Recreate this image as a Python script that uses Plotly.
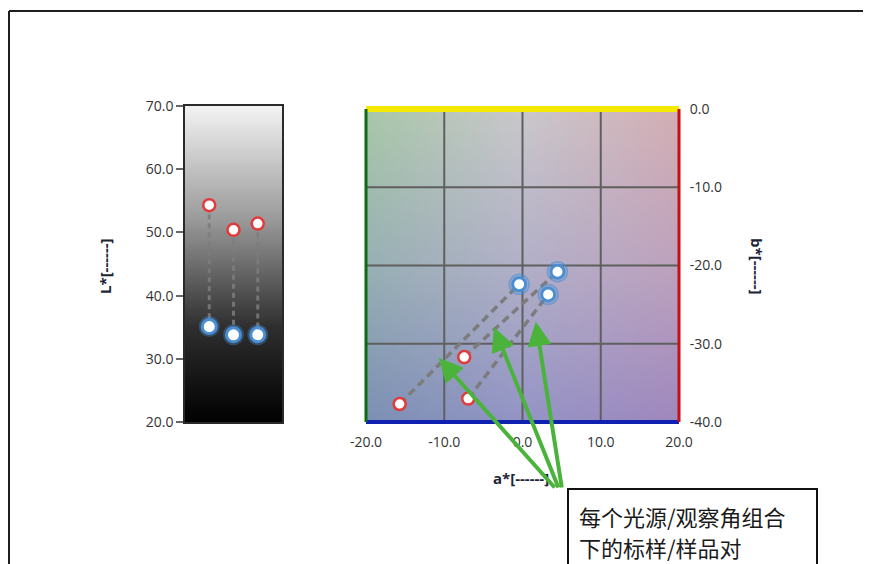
import numpy as np
import plotly.graph_objects as go

# ---------------- data ----------------
L_positions = [1, 2, 3]
L_sample = [54.3, 50.4, 51.4]
L_standard = [35.1, 33.8, 33.8]
L_ticks = [20, 30, 40, 50, 60, 70]

a_sample = [-15.7, -7.45, -6.94]
b_sample = [-37.7, -31.7, -37.0]
a_standard = [-0.43, 4.47, 3.28]
b_standard = [-22.4, -20.8, -23.7]
a_ticks = [-20, -10, 0, 10, 20]
b_ticks = [0, -10, -20, -30, -40]

arrow_targets_a = [-10.7, -3.65, 1.7]
arrow_targets_b = [-31.8, -27.9, -27.2]

note_lines = ["每个光源/观察角组合", "下的标样/样品对"]
L_title = "L*[------]"
a_title = "a*[------]"
b_title = "b*[------]"

# ---------------- figure setup ----------------
# page body has an 8px margin; figure coordinates are page pixels minus 8
OFF = 8
W, H = 863, 556


def px(x):
    return (x - OFF) / W


def py(y):
    return 1 - (y - OFF) / H


TICKFONT = dict(family="Open Sans, DejaVu Sans, sans-serif", size=14, color="#333333")
SAMPLE_COLOR = "#e23a3a"
STD_COLOR = "#4a8fd4"

fig = go.Figure()

# L* background gradient (heatmap)
Ly = np.linspace(18, 72, 55)
fig.add_trace(go.Heatmap(
    x=[-0.5, 4.5], y=Ly, z=[[v, v] for v in Ly],
    colorscale=[[0, "#000000"], [0.3, "#2e2e2e"], [0.65, "#9c9c9c"], [1, "#f2f2f2"]],
    zmin=20, zmax=70, zsmooth="best", showscale=False, hoverinfo="skip",
    xaxis="x", yaxis="y",
))

# L* dashed pair lines
for xp, s, t in zip(L_positions, L_sample, L_standard):
    fig.add_trace(go.Scatter(
        x=[xp, xp], y=[s, t], mode="lines",
        line=dict(color="rgba(125,125,125,0.85)", width=3, dash="5px,4px"),
        hoverinfo="skip", showlegend=False, xaxis="x", yaxis="y",
    ))
fig.add_trace(go.Scatter(
    x=L_positions, y=L_standard, mode="markers",
    marker=dict(size=21, color="rgba(74,143,212,0.35)", line=dict(width=0)),
    hoverinfo="skip", showlegend=False, xaxis="x", yaxis="y",
))
fig.add_trace(go.Scatter(
    x=L_positions, y=L_standard, mode="markers", name="标样",
    marker=dict(size=14, color="white", line=dict(color=STD_COLOR, width=3)),
    showlegend=False, xaxis="x", yaxis="y",
))
fig.add_trace(go.Scatter(
    x=L_positions, y=L_sample, mode="markers", name="样品",
    marker=dict(size=12, color="white", line=dict(color=SAMPLE_COLOR, width=2.5)),
    showlegend=False, xaxis="x", yaxis="y",
))

# a*b* background image (smooth colour field)
ctrl = np.array([
    [[124, 144, 180], [148, 148, 198], [160, 136, 190]],   # bottom row (b=-40)
    [[152, 176, 180], [178, 176, 200], [190, 162, 190]],   # middle
    [[168, 200, 168], [202, 200, 204], [212, 174, 180]],   # top row (b=0)
], dtype=float)
n = 120
u = np.linspace(0, 2, n)
i0 = np.clip(np.floor(u).astype(int), 0, 1)
fr = u - i0
img = np.zeros((n, n, 3))
for r in range(n):
    for c in range(n):
        a0, af = i0[r], fr[r]
        b0, bf = i0[c], fr[c]
        top = ctrl[a0 + 1, b0] * (1 - bf) + ctrl[a0 + 1, b0 + 1] * bf
        bot = ctrl[a0, b0] * (1 - bf) + ctrl[a0, b0 + 1] * bf
        img[r, c] = bot * (1 - af) + top * af
img = img.astype(np.uint8)
step = 40 / n
fig.add_trace(go.Image(
    z=img, x0=-20 + step / 2, dx=step, y0=-40 + step / 2, dy=step,
    hoverinfo="skip", xaxis="x2", yaxis="y2",
))

# grid lines as traces (so they sit above the image)
for t in a_ticks[1:-1]:
    fig.add_trace(go.Scatter(x=[t, t], y=[-40, 0], mode="lines",
                             line=dict(color="#5f5f5f", width=2), hoverinfo="skip",
                             showlegend=False, xaxis="x2", yaxis="y2"))
for t in b_ticks[1:-1]:
    fig.add_trace(go.Scatter(x=[-20, 20], y=[t, t], mode="lines",
                             line=dict(color="#5f5f5f", width=2), hoverinfo="skip",
                             showlegend=False, xaxis="x2", yaxis="y2"))

# a*b* dashed pair lines
for sa, sb, ta, tb in zip(a_sample, b_sample, a_standard, b_standard):
    fig.add_trace(go.Scatter(
        x=[sa, ta], y=[sb, tb], mode="lines",
        line=dict(color="#7c7c7c", width=3.5, dash="8px,5px"),
        hoverinfo="skip", showlegend=False, xaxis="x2", yaxis="y2",
    ))
fig.add_trace(go.Scatter(
    x=a_standard, y=b_standard, mode="markers",
    marker=dict(size=20, color="rgba(74,143,212,0.2)", line=dict(color="rgba(74,143,212,0.55)", width=1.5)),
    hoverinfo="skip", showlegend=False, xaxis="x2", yaxis="y2",
))
fig.add_trace(go.Scatter(
    x=a_standard, y=b_standard, mode="markers", name="标样",
    marker=dict(size=13, color="white", line=dict(color=STD_COLOR, width=3)),
    showlegend=False, xaxis="x2", yaxis="y2",
))
fig.add_trace(go.Scatter(
    x=a_sample, y=b_sample, mode="markers", name="样品",
    marker=dict(size=12, color="white", line=dict(color=SAMPLE_COLOR, width=2.5)),
    showlegend=False, xaxis="x2", yaxis="y2",
))

# ---------------- layout ----------------
fig.update_layout(
    template="none",
    width=W, height=H,
    margin=dict(l=0, r=0, t=0, b=0),
    paper_bgcolor="white", plot_bgcolor="white",
    showlegend=False,
    xaxis=dict(domain=[px(185), px(282)], range=[0, 4], showgrid=False, zeroline=False,
               showticklabels=False, ticks="", showline=True, mirror=True,
               linecolor="#2a2a2a", linewidth=1.5, automargin=False, fixedrange=True),
    yaxis=dict(domain=[py(422), py(106)], range=[20, 70], tickvals=L_ticks,
               ticktext=[f"{v:.1f}" for v in L_ticks], ticks="outside", ticklen=7,
               tickcolor="#666", tickwidth=1.5, tickfont=TICKFONT, showgrid=False, zeroline=False,
               showline=True, mirror=True, linecolor="#2a2a2a", linewidth=1.5,
               automargin=False, fixedrange=True),
    xaxis2=dict(domain=[px(366), px(679)], range=[-20, 20], tickvals=a_ticks,
                ticktext=[f"{v:.1f}" for v in a_ticks], ticks="outside", ticklen=7,
                tickcolor="rgba(0,0,0,0)", tickfont=TICKFONT,
                showgrid=False, zeroline=False, showline=False, automargin=False,
                anchor="y2", fixedrange=True),
    yaxis2=dict(domain=[py(422), py(109)], range=[-40, 0], tickvals=b_ticks,
                ticktext=[f"{v:.1f}" for v in b_ticks], ticks="outside", ticklen=7,
                tickcolor="rgba(0,0,0,0)", tickfont=TICKFONT,
                side="right", showgrid=False, zeroline=False, showline=False,
                automargin=False, anchor="x2", fixedrange=True, autorange=False,
                scaleanchor=False),
)

shapes = []
shapes.append(dict(type="line", xref="x2 domain", yref="y2 domain", x0=0, x1=1, y0=1, y1=1,
                   line=dict(color="#f5e900", width=6)))
shapes.append(dict(type="line", xref="x2 domain", yref="y2 domain", x0=0, x1=1, y0=0, y1=0,
                   line=dict(color="#1020b0", width=4)))
shapes.append(dict(type="line", xref="x2 domain", yref="y2 domain", x0=0, x1=0, y0=0, y1=1,
                   line=dict(color="#0e6a14", width=3)))
shapes.append(dict(type="line", xref="x2 domain", yref="y2 domain", x0=1, x1=1, y0=0, y1=1,
                   line=dict(color="#c80f14", width=3)))
# outer frame
shapes.append(dict(type="line", xref="paper", yref="paper", x0=px(9), x1=1.02, y0=py(11), y1=py(11),
                   line=dict(color="#1e1e1e", width=2)))
shapes.append(dict(type="line", xref="paper", yref="paper", x0=px(9), x1=px(9), y0=py(11), y1=-0.02,
                   line=dict(color="#1e1e1e", width=2)))
# note box
shapes.append(dict(type="rect", xref="paper", yref="paper", x0=px(568), x1=px(817), y0=-0.05, y1=py(489),
                   line=dict(color="#111", width=2), fillcolor="white"))
fig.update_layout(shapes=shapes)

ann = []
TITLEFONT = dict(family="Open Sans, DejaVu Sans, sans-serif", size=15, color="#1b2436")
ann.append(dict(x=px(105), y=py(266), xref="paper", yref="paper", text="<b>" + L_title + "</b>",
                textangle=-90, showarrow=False, font=TITLEFONT, xanchor="center", yanchor="middle"))
ann.append(dict(x=px(757), y=py(266), xref="paper", yref="paper", text="<b>" + b_title + "</b>",
                textangle=90, showarrow=False, font=TITLEFONT, xanchor="center", yanchor="middle"))
ann.append(dict(x=px(521), y=py(478), xref="paper", yref="paper", text="<b>" + a_title + "</b>",
                showarrow=False, font=TITLEFONT, xanchor="center", yanchor="middle"))

tails = [(556, 489), (559, 489), (562, 489)]
for (ta, tb), (tx, ty) in zip(zip(arrow_targets_a, arrow_targets_b), tails):
    xp = 366 + (ta + 20) / 40 * (679 - 366)
    yp = 109 + (0 - tb) / 40 * (422 - 109)
    ann.append(dict(x=ta, y=tb, xref="x2", yref="y2", ax=tx - xp, ay=ty - yp,
                    showarrow=True, arrowhead=2, arrowsize=1.2, arrowwidth=4,
                    arrowcolor="#4bb33c", text=""))

NOTEFONT = dict(family="Noto Sans CJK SC, sans-serif", size=22, color="#1a1a1a")
ann.append(dict(x=px(577), y=py(516), xref="paper", yref="paper", text=note_lines[0],
                showarrow=False, font=NOTEFONT, xanchor="left", yanchor="middle"))
ann.append(dict(x=px(577), y=py(547), xref="paper", yref="paper", text=note_lines[1],
                showarrow=False, font=NOTEFONT, xanchor="left", yanchor="middle"))
fig.update_layout(annotations=ann)

fig.write_html("out.html")
